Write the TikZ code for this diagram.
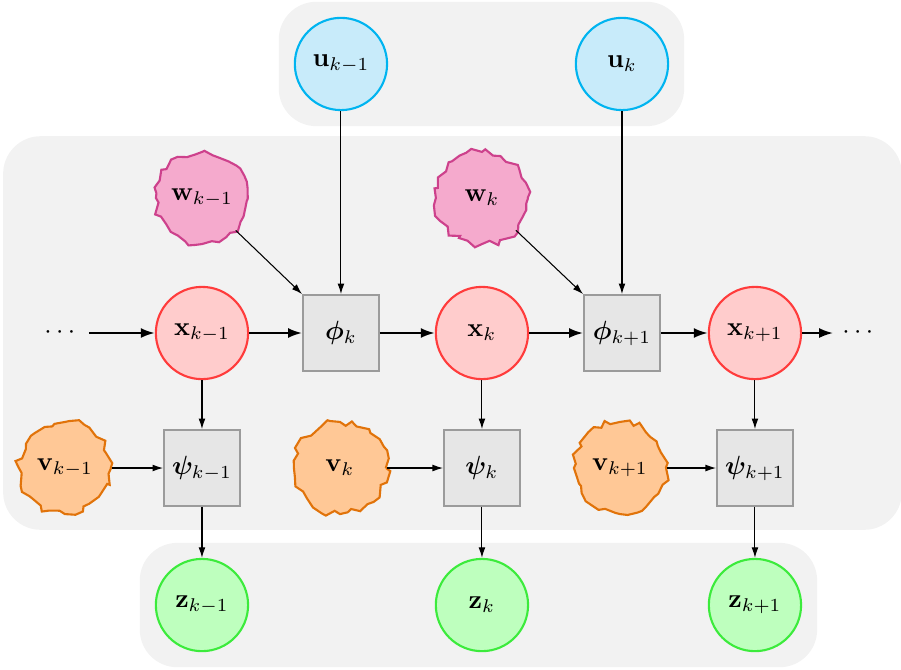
\documentclass[tikz,border=0pt]{standalone}
\usepackage{amsmath,bm}
\usetikzlibrary{arrows.meta, positioning, fit, backgrounds, decorations.pathmorphing}

\definecolor{ufill}{RGB}{200,235,250}
\definecolor{uline}{RGB}{0,180,240}
\definecolor{xfill}{RGB}{255,204,204}
\definecolor{xline}{RGB}{255,60,60}
\definecolor{zfill}{RGB}{190,255,190}
\definecolor{zline}{RGB}{60,235,60}
\definecolor{wfill}{RGB}{245,170,205}
\definecolor{wline}{RGB}{205,65,140}
\definecolor{vfill}{RGB}{255,200,150}
\definecolor{vline}{RGB}{225,115,10}
\definecolor{boxfill}{RGB}{230,230,230}
\definecolor{boxline}{RGB}{155,155,155}
\definecolor{panelfill}{RGB}{242,242,242}

\pgfmathsetseed{11}

\begin{document}
\begin{tikzpicture}[
    node distance=1.8cm and 1.86cm, on grid,
    var/.style={circle, draw=#1line, fill=#1fill, line width=0.8pt, minimum size=1.23cm, inner sep=0pt},
    noise/.style={circle, draw=#1line, fill=#1fill, line width=0.8pt, minimum size=1.22cm, inner sep=0pt,
      decorate, decoration={random steps, segment length=2.8pt, amplitude=1.4pt}},
    func/.style={draw=boxline, fill=boxfill, line width=0.8pt, minimum size=1.01cm, inner sep=0pt},
    link/.style={-{Latex[length=4pt, width=2.6pt]}, thin},
    chain/.style={-{Latex[length=5.3pt, width=3.8pt]}, thick},
    panel/.style={fill=panelfill, rounded corners=0.5cm, inner sep=0.2cm},
  ]
  \useasboundingbox (0,0) rectangle (12.013,-8.92);

  % state chain
  \node[var=x] (xkm) at (2.693,-4.44) {$\mathbf{x}_{k-1}$};
  \node[func, right=1.853cm of xkm] (phik) {$\bm{\phi}_k$};
  \node[var=x, right=1.88cm of phik] (xk) {$\mathbf{x}_k$};
  \node[func, right=1.867cm of xk] (phik1) {$\bm{\phi}_{k+1}$};
  \node[var=x, right=1.773cm of phik1] (xk1) {$\mathbf{x}_{k+1}$};
  \node[left=1.867cm of xkm] (dotsl) {$\cdots$};
  \node[right=1.4cm of xk1] (dotsr) {$\cdots$};

  % inputs
  \node[var=u, above=3.587cm of phik] (ukm) {$\mathbf{u}_{k-1}$};
  \node[var=u, above=3.587cm of phik1] (uk) {$\mathbf{u}_k$};

  % process noise
  \node[noise=w, above=of xkm] (wkm) {$\mathbf{w}_{k-1}$};
  \node[noise=w, above=of xk] (wk) {$\mathbf{w}_k$};

  % measurement functions
  \node[func, below=of xkm] (psikm) {$\bm{\psi}_{k-1}$};
  \node[func, below=of xk] (psik) {$\bm{\psi}_k$};
  \node[func, below=of xk1] (psik1) {$\bm{\psi}_{k+1}$};

  % measurement noise
  \node[noise=v, left=1.827cm of psikm] (vkm) {$\mathbf{v}_{k-1}$};
  \node[noise=v, left=1.893cm of psik] (vk) {$\mathbf{v}_k$};
  \node[noise=v, left=1.8cm of psik1] (vk1) {$\mathbf{v}_{k+1}$};

  % measurements
  \node[var=z, below=1.827cm of psikm] (zkm) {$\mathbf{z}_{k-1}$};
  \node[var=z, below=1.827cm of psik] (zk) {$\mathbf{z}_k$};
  \node[var=z, below=1.827cm of psik1] (zk1) {$\mathbf{z}_{k+1}$};

  % arrows
  \draw[chain] (dotsl) -- (xkm);
  \draw[chain] (xkm) -- (phik);
  \draw[chain] (phik) -- (xk);
  \draw[chain] (xk) -- (phik1);
  \draw[chain] (phik1) -- (xk1);
  \draw[chain] (xk1) -- (dotsr);
  \draw[link] (ukm) -- (phik);
  \draw[link] (uk) -- (phik1);
  \draw[link] (wkm) -- (phik.north west);
  \draw[link] (wk) -- (phik1.north west);
  \draw[link] (xkm) -- (psikm);
  \draw[link] (xk) -- (psik);
  \draw[link] (xk1) -- (psik1);
  \draw[link] (vkm) -- (psikm);
  \draw[link] (vk) -- (psik);
  \draw[link] (vk1) -- (psik1);
  \draw[link] (psikm) -- (zkm);
  \draw[link] (psik) -- (zk);
  \draw[link] (psik1) -- (zk1);

  % panels
  \begin{scope}[on background layer]
    \node[panel, fit=(ukm)(uk)] {};
    \node[panel, fit=(vkm)(wkm)(wk)(dotsr)(vk1)(psik1)] {};
    \node[panel, fit=(zkm)(zk)(zk1)] {};
  \end{scope}

\end{tikzpicture}
\end{document}
